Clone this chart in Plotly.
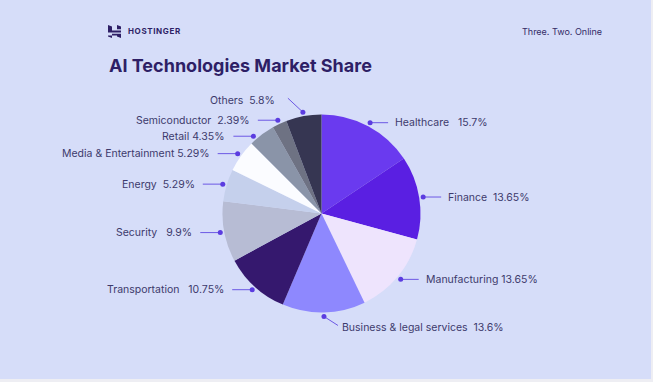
import math
import plotly.graph_objects as go

# ---- data ----
categories = ["Healthcare", "Finance", "Manufacturing", "Business & legal services",
              "Transportation", "Security", "Energy", "Media & Entertainment",
              "Retail", "Semiconductor", "Others"]
shares = [15.7, 13.65, 13.65, 13.6, 10.75, 9.9, 5.29, 5.29, 4.35, 2.39, 5.8]
share_labels = ["15.7%", "13.65%", "13.65%", "13.6%", "10.75%", "9.9%", "5.29%",
                "5.29%", "4.35%", "2.39%", "5.8%"]
colors = ["#6a3aef", "#5a1fe2", "#eee4fd", "#8e88fe", "#35186e", "#b7bcd4",
          "#c5d0ec", "#fbfcff", "#8a94a8", "#6e7283", "#363652"]
# gap (in spaces) between category name and value, as in the reference
gaps = [3, 2, 1, 2, 3, 3, 2, 1, 1, 2, 2]

W, H = 653, 382
PW, PH = 651, 379          # lavender card size
CX, CY, R = 321.5, 213.5, 99
BG = "#d6ddf9"
TXT = "#3d3a6c"
DOT = "#5b3ce0"

fig = go.Figure()

fig.add_trace(go.Pie(
    labels=categories, values=shares, sort=False, direction="clockwise",
    rotation=0, marker=dict(colors=colors, line=dict(width=0)),
    textinfo="none", hoverinfo="label+percent", showlegend=False,
    domain=dict(x=[(CX - R) / PW, (CX + R) / PW],
                y=[(PH - CY - R) / PH, (PH - CY + R) / PH]),
))

# ---- leader lines, dots and labels computed from slice angles ----
total = sum(shares)
rd = R + 4
mids = []
cum = 0.0
for v in shares:
    mids.append((cum + v / 2) / total * 2 * math.pi)
    cum += v

pts = []
for m in mids:
    pts.append([CX + rd * math.sin(m), CY - rd * math.cos(m)])

# avoid label collisions on the left side (horizontal leaders only)
left = [i for i, m in enumerate(mids) if math.sin(m) < 0 and abs(math.cos(m)) <= 0.95]
left.sort(key=lambda i: pts[i][1])
prev_y = None
for i in left:
    if prev_y is not None and pts[i][1] - prev_y < 16:
        ny = prev_y + 16
        cosv = max(-1, min(1, (CY - ny) / rd))
        ang = math.acos(cosv)
        pts[i] = [CX - rd * math.sin(ang), ny]
    prev_y = pts[i][1]

dx_, dy_ = [], []
annotations = []
for name, lab, g, m, (px, py) in zip(categories, share_labels, gaps, mids, pts):
    s, c = math.sin(m), math.cos(m)
    text = name + "\u00a0" * (g - 1) + " " + lab if g > 1 else name + " " + lab
    if abs(c) > 0.95:
        if c > 0:   # top: up-left diagonal
            ex, ey = px - 15, py - 14
            tx, ty, anc = ex - 11, ey + 2, "right"
        else:       # bottom: down-right diagonal
            ex, ey = px + 14, py + 9
            tx, ty, anc = ex + 2, ey + 2, "left"
    elif s > 0:
        ex, ey = px + 18, py
        tx, ty, anc = ex + 5, ey, "left"
    else:
        ex, ey = px - 20, py
        tx, ty, anc = ex - 6, ey, "right"
    fig.add_trace(go.Scatter(x=[px, ex], y=[py, ey], mode="lines",
                             line=dict(color="#6c58e4", width=1),
                             hoverinfo="skip", showlegend=False))
    dx_.append(px); dy_.append(py)
    annotations.append(dict(x=tx, y=ty, xref="x", yref="y", text=text,
                            showarrow=False, xanchor=anc, yanchor="middle",
                            font=dict(family="Inter", size=10.5, color=TXT)))

fig.add_trace(go.Scatter(x=dx_, y=dy_, mode="markers",
                         marker=dict(color=DOT, size=5), hoverinfo="skip",
                         showlegend=False))

# ---- title / brand texts ----
hs = "\u200a"
annotations += [
    dict(x=107, y=65, xref="x", yref="y", text="<b>AI Technologies Market Share</b>",
         showarrow=False, xanchor="left", yanchor="middle",
         font=dict(family="Inter", size=18, color="#2e1f66")),
    dict(x=126, y=31, xref="x", yref="y", text="<b>" + hs.join("HOSTINGER") + "</b>",
         showarrow=False, xanchor="left", yanchor="middle",
         font=dict(family="Inter", size=8, color="#2e1f66")),
    dict(x=604, y=31, xref="x", yref="y", text="Three. Two. Online",
         showarrow=False, xanchor="right", yanchor="middle",
         font=dict(family="Inter", size=9, color="#332a66")),
]

# Hostinger logo mark (stylised H)
logo = ("M108,25 L112,26.5 L112,30.5 L121,30.5 L121,32.5 L108,32.5 Z "
        "M117,25 L121,26.5 L121,29.2 L117,29.2 Z "
        "M108,33.8 L112,33.8 L112,38 L108,36.5 Z "
        "M108,33.8 L121,33.8 L121,38 L117,36.5 L117,35.6 L108,35.6 Z")
shapes = [dict(type="path", path=logo, xref="x", yref="y",
               fillcolor="#2e1f66", line=dict(width=0))]

fig.update_layout(
    width=W, height=H,
    margin=dict(l=0, r=W - PW, t=0, b=H - PH),
    paper_bgcolor="#eeeef3", plot_bgcolor=BG,
    xaxis=dict(range=[0, PW], visible=False, fixedrange=True),
    yaxis=dict(range=[PH, 0], visible=False, fixedrange=True),
    annotations=annotations, shapes=shapes,
)

fig.write_html("out.html", config={"displayModeBar": False},
               post_script="document.body.style.margin='0';")
